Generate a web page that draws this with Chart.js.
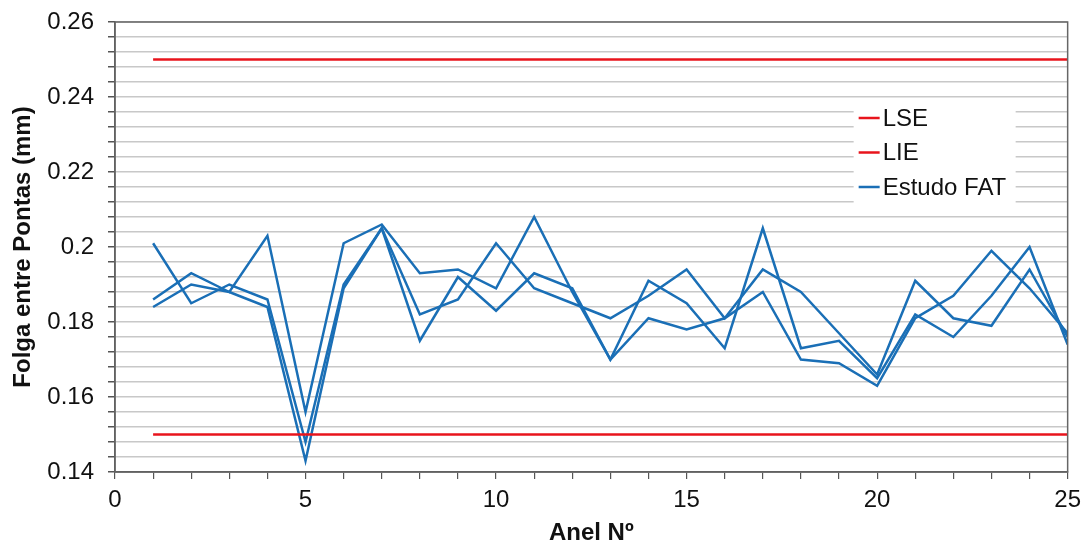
<!DOCTYPE html>
<html>
<head>
<meta charset="utf-8">
<script src="https://cdn.jsdelivr.net/npm/chart.js@4"></script>
<style>
  html, body { margin: 0; padding: 0; background: #fff; }
  canvas { display: block; }
</style>
</head>
<body>
<canvas id="folgaChart" width="1088" height="541"></canvas>
<script>
const ringNo = [1, 2, 3, 4, 5, 6, 7, 8, 9, 10, 11, 12, 13, 14, 15, 16, 17, 18, 19, 20, 21, 22, 23, 24, 25]

const studyA = [0.201, 0.185, 0.190, 0.186, 0.148, 0.190, 0.205, 0.182, 0.186, 0.201, 0.189, 0.185, 0.181, 0.187, 0.194, 0.181, 0.194, 0.188, 0.177, 0.166, 0.191, 0.181, 0.179, 0.194, 0.176]
const studyB = [0.186, 0.193, 0.188, 0.203, 0.156, 0.201, 0.206, 0.193, 0.194, 0.189, 0.208, 0.188, 0.170, 0.191, 0.185, 0.173, 0.205, 0.173, 0.175, 0.165, 0.182, 0.176, 0.187, 0.200, 0.174]
const studyC = [0.184, 0.190, 0.188, 0.184, 0.143, 0.189, 0.205, 0.175, 0.192, 0.183, 0.193, 0.189, 0.170, 0.181, 0.178, 0.181, 0.188, 0.170, 0.169, 0.163, 0.181, 0.187, 0.199, 0.189, 0.177]

const limitX = [1, 25]
const lseValues = [0.25, 0.25]
const lieValues = [0.15, 0.15]

const legendLabels = ["LSE", "LIE", "Estudo FAT"]

const RED = "#e8141c"
const BLUE = "#1a6fb6"
const FONT = "'Liberation Sans', Arial, sans-serif"

function toPoints(xs, ys) {
  return xs.map((x, i) => ({ x, y: ys[i] }))
}

function lineSet(label, xs, ys, color) {
  return {
    label,
    data: toPoints(xs, ys),
    borderColor: color,
    backgroundColor: color,
    borderWidth: 2.5,
    pointRadius: 0,
    tension: 0,
    fill: false,
  }
}

// frame round the plot and the legend box inside it
const framePlugin = {
  id: "frame",
  afterDatasetsDraw(chart) {
    const { ctx, chartArea } = chart
    ctx.save()
    ctx.strokeStyle = "#666"
    ctx.lineWidth = 1.5
    ctx.strokeRect(chartArea.left, chartArea.top, chartArea.right - chartArea.left, chartArea.bottom - chartArea.top)

    const boxX = chartArea.right - 214
    const boxY = chartArea.top + 80
    ctx.fillStyle = "#fff"
    ctx.fillRect(boxX, boxY, 162, 106)

    const colors = [RED, RED, BLUE]
    ctx.font = "24px " + FONT
    ctx.textBaseline = "middle"
    legendLabels.forEach((text, i) => {
      const y = boxY + 16 + i * 34.5
      ctx.strokeStyle = colors[i]
      ctx.lineWidth = 2.5
      ctx.beginPath()
      ctx.moveTo(boxX + 5, y)
      ctx.lineTo(boxX + 26, y)
      ctx.stroke()
      ctx.fillStyle = "#111"
      ctx.fillText(text, boxX + 29, y + 1)
    })
    ctx.restore()
  },
}

const ctx = document.getElementById("folgaChart").getContext("2d")

new Chart(ctx, {
  type: "line",
  data: {
    datasets: [
      lineSet("LSE", limitX, lseValues, RED),
      lineSet("LIE", limitX, lieValues, RED),
      lineSet("Estudo FAT", ringNo, studyA, BLUE),
      lineSet("Estudo FAT", ringNo, studyB, BLUE),
      lineSet("Estudo FAT", ringNo, studyC, BLUE),
    ],
  },
  options: {
    responsive: false,
    animation: false,
    devicePixelRatio: 1,
    layout: {
      padding: { top: 22, right: 16, left: 0, bottom: 0 },
    },
    plugins: {
      legend: { display: false },
      tooltip: { enabled: false },
    },
    scales: {
      x: {
        type: "linear",
        min: 0,
        max: 25,
        afterFit: (scale) => {
          scale.height = 69
        },
        ticks: {
          stepSize: 1,
          autoSkip: false,
          maxRotation: 0,
          padding: 7,
          color: "#111",
          font: { family: FONT, size: 24 },
          callback: (value) => (value % 5 === 0 ? String(value) : ""),
        },
        grid: {
          drawOnChartArea: false,
          color: "#555",
          tickLength: 7,
          lineWidth: 1.2,
        },
        border: { color: "#555", width: 1.5 },
        title: {
          display: true,
          text: "Anel Nº",
          color: "#111",
          font: { family: FONT, size: 24, weight: "bold" },
          padding: { top: 0, bottom: -7 },
        },
      },
      y: {
        min: 0.14,
        max: 0.26,
        afterFit: (scale) => {
          scale.width = 115
          scale.paddingTop = 0
          scale.paddingBottom = 0
        },
        ticks: {
          stepSize: 0.004,
          autoSkip: false,
          padding: 14,
          color: "#111",
          font: { family: FONT, size: 24 },
          callback: (value, index) =>
            index % 5 === 0 ? String(parseFloat(value.toFixed(2))) : "",
        },
        grid: {
          color: "#c8c8c8",
          lineWidth: 1.5,
          tickLength: 7,
          tickColor: "#555",
        },
        border: { color: "#555", width: 1.5 },
        title: {
          display: true,
          text: "Folga entre Pontas (mm)",
          color: "#111",
          font: { family: FONT, size: 24, weight: "bold" },
          padding: { top: 9, bottom: 0 },
        },
      },
    },
  },
  plugins: [framePlugin],
})
</script>
</body>
</html>
